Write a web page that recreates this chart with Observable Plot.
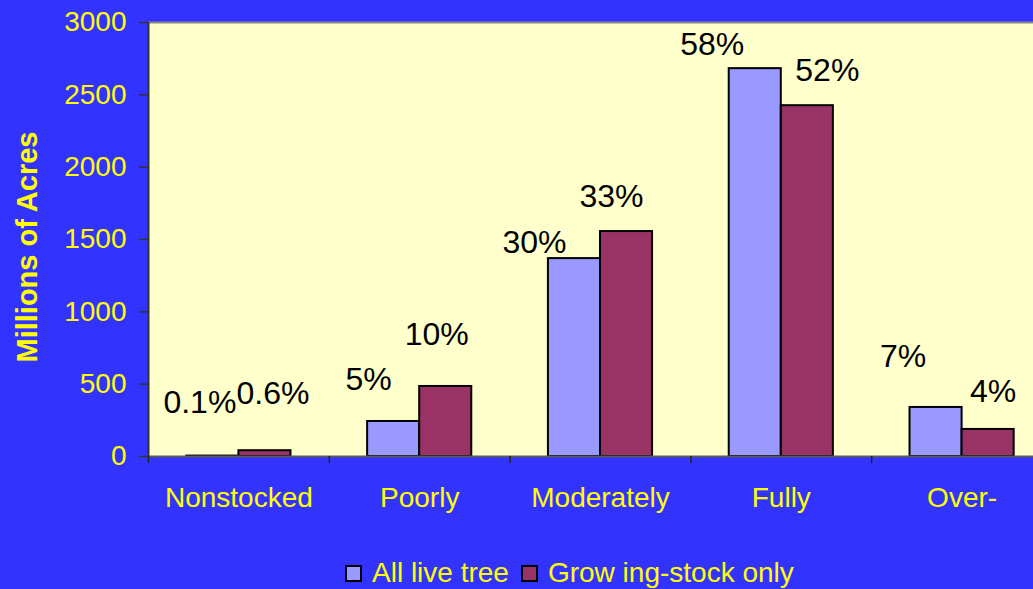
<!DOCTYPE html>
<html>
<head>
<meta charset="utf-8">
<script src="https://cdn.jsdelivr.net/npm/d3@7"></script>
<script src="https://cdn.jsdelivr.net/npm/@observablehq/plot@0.6"></script>
<style>
  html, body { margin: 0; padding: 0; overflow: hidden; background: #3333FF; }
  #wrap { position: relative; width: 1033px; height: 589px; overflow: hidden; background: #3333FF;
          font-family: "Liberation Sans", Arial, sans-serif; }
  #chart { position: absolute; left: 0; top: 0; width: 1052px; }
  #chart svg { max-width: none !important; }
  #legend { position: absolute; left: 345px; top: 557px; display: flex; align-items: center;
            color: #FFFF00; font-size: 28px; line-height: 32px; white-space: nowrap; }
  .sw { width: 13px; height: 13px; border: 2.5px solid #000; display: inline-block; }
</style>
</head>
<body>
<div id="wrap">
  <div id="chart"></div>
  <div id="legend"></div>
</div>
<script>
// ---- data ----
const categories = ["Nonstocked", "Poorly", "Moderately", "Fully", "Over-"];
const seriesNames = ["All live tree", "Grow ing-stock only"];
const allLive = [3, 242, 1368, 2681, 339];
const growing = [40, 484, 1555, 2425, 187];
const allLivePct = ["0.1%", "5%", "30%", "58%", "7%"];
const growingPct = ["0.6%", "10%", "33%", "52%", "4%"];
const yTicks = [0, 500, 1000, 1500, 2000, 2500, 3000];

// ---- layout / style (not data) ----
const colors = ["#9999FF", "#993366"];
const labelNudgeX = [[-13, -25, -40, -43, -33], [8, -9, -15, 20, 5]];
const labelNudgeUp = [[43, 31, 6, 14, 40], [47, 41, 25, 25, 27]];

const width = 1052, height = 540;
const marginLeft = 148, marginRight = 0, marginTop = 22, marginBottom = height - 456;
const step = (width - marginLeft - marginRight) / categories.length;
const barW = step * 0.288;
const half = step / 2;

const rows = [allLive, growing].map((vals, s) =>
  categories.map((c, i) => ({category: c, series: seriesNames[s], value: vals[i],
                             label: (s === 0 ? allLivePct : growingPct)[i], s, i})));

const barMarks = rows.map((data, s) =>
  Plot.barY(data, {
    x: "category", y: "value", fill: colors[s], stroke: "#000", strokeWidth: 2,
    insetLeft: s === 0 ? half - barW : half,
    insetRight: s === 0 ? half : half - barW
  })
);

const labelMarks = rows.flat().map(d =>
  Plot.text([d], {
    x: "category", y: "value", text: "label",
    dx: (d.s === 0 ? -barW / 2 : barW / 2) + labelNudgeX[d.s][d.i],
    dy: -labelNudgeUp[d.s][d.i],
    lineAnchor: "bottom", textAnchor: "middle",
    fill: "#000", fontSize: 32
  })
);

const chart = Plot.plot({
  width, height, marginLeft, marginRight, marginTop, marginBottom,
  style: {background: "transparent", fontFamily: "'Liberation Sans', Arial, sans-serif", fontSize: "28px", maxWidth: "none"},
  x: {type: "band", domain: categories, padding: 0, round: false},
  y: {domain: [0, 3000]},
  marks: [
    Plot.frame({fill: "#FFFFCC", stroke: null}),
    Plot.ruleY([3000], {stroke: "#8A8A8A", strokeWidth: 2}),
    ...barMarks,
    Plot.ruleY([0], {stroke: "#5A5A5A", strokeWidth: 2}),
    Plot.ruleX([categories[0]], {dx: -half, y1: 0, y2: 3000, stroke: "#333", strokeWidth: 2}),
    Plot.axisX({ticks: categories, tickSize: 7, tickFormat: () => "", dx: -half, stroke: "#222", strokeWidth: 1.5, label: null}),
    Plot.axisX({ticks: categories, tickSize: 0, tickPadding: 31, fill: "#FFFF00", fontSize: 28, label: null}),
    Plot.axisY({ticks: yTicks, tickSize: 9, tickPadding: 13, tickFormat: d => String(d),
                fill: "#FFFF00", stroke: "#333", strokeWidth: 1.5, fontSize: 28, label: null}),
    Plot.text(["Millions of Acres"], {frameAnchor: "left", rotate: -90, dx: -121, dy: 7.5,
                textAnchor: "middle", lineAnchor: "middle",
                fill: "#FFFF00", fontWeight: "bold", fontSize: 29}),
    ...labelMarks
  ]
});
chart.style.maxWidth = "none";
document.getElementById("chart").appendChild(chart);

// legend
const legend = document.getElementById("legend");
seriesNames.forEach((name, s) => {
  const sw = document.createElement("span");
  sw.className = "sw";
  sw.style.background = colors[s];
  sw.style.marginRight = "10px";
  if (s > 0) sw.style.marginLeft = "12px";
  const t = document.createElement("span");
  t.textContent = name;
  legend.appendChild(sw);
  legend.appendChild(t);
});
</script>
</body>
</html>
